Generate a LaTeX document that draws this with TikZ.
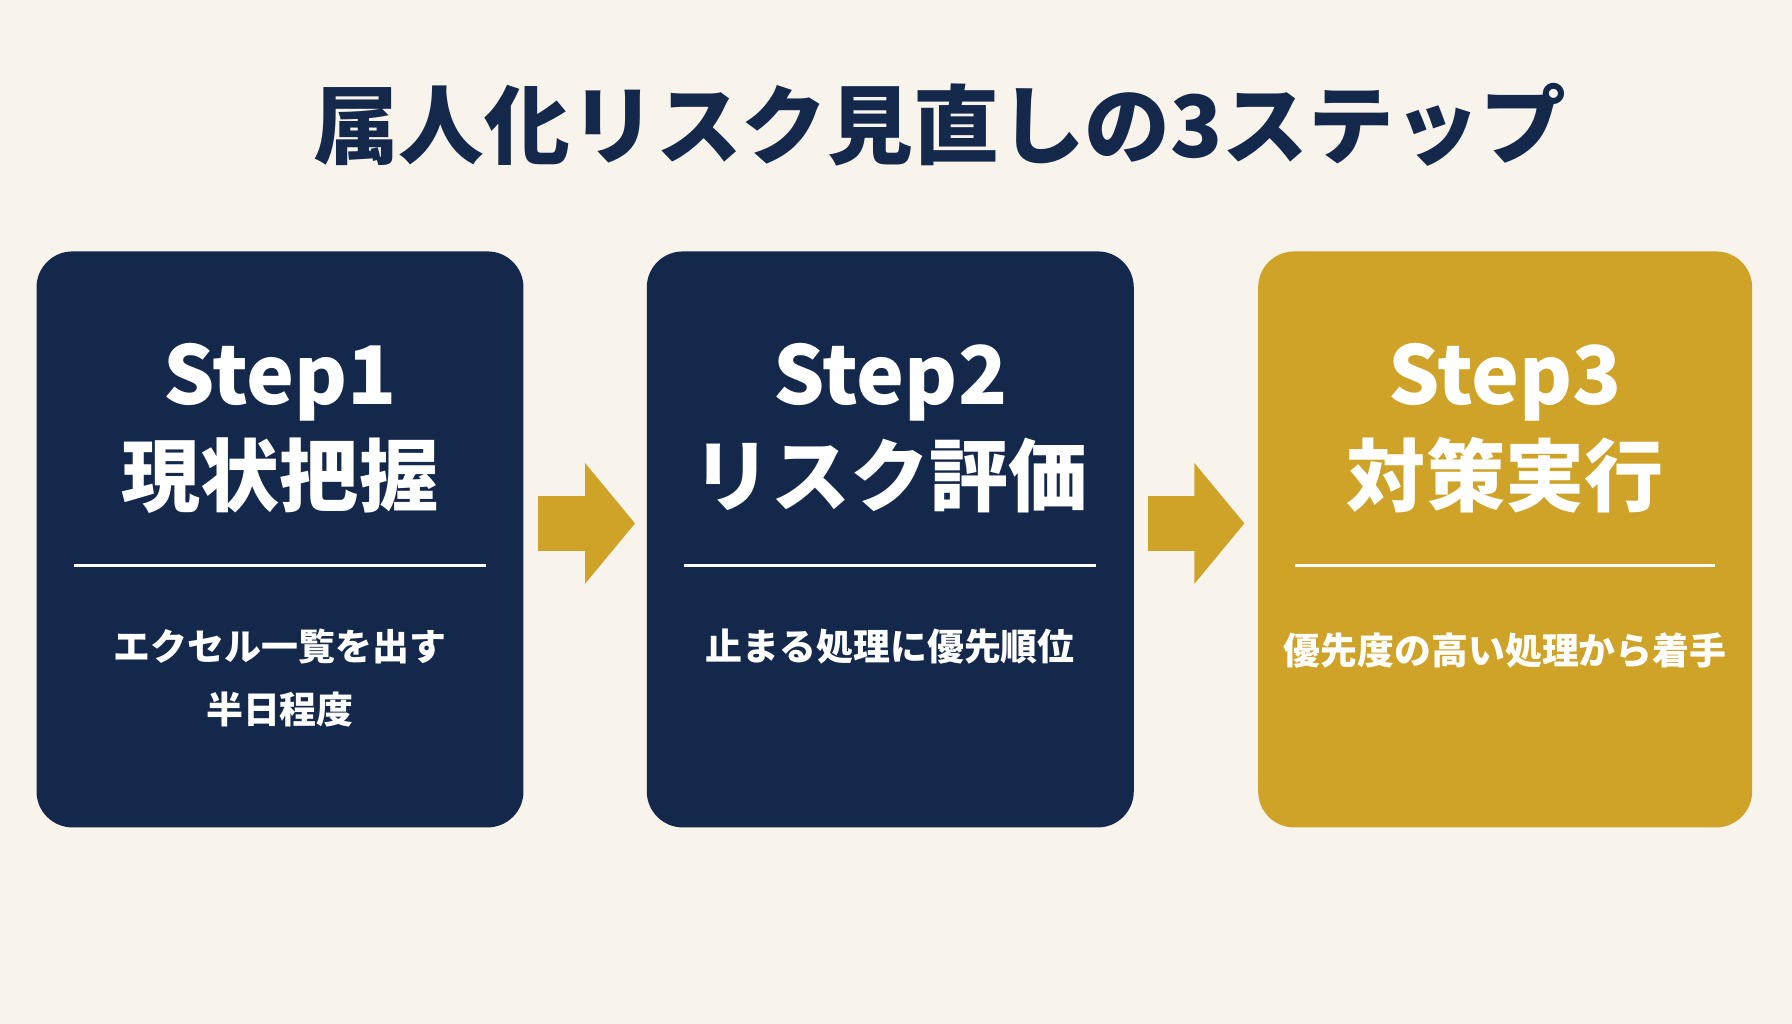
\documentclass[tikz,border=0pt]{standalone}
\usepackage{fontspec}
\setmainfont{Noto Sans CJK JP}
\usetikzlibrary{arrows.meta,positioning}
\definecolor{navy}{HTML}{13284B}
\definecolor{gold}{HTML}{CFA228}
\definecolor{paper}{HTML}{F8F4EC}
\begin{document}
\begin{tikzpicture}[x=0.01143cm,y=-0.01143cm]
  \tikzset{stepbox/.style = {rounded corners=0.36cm,minimum width=4.87cm,minimum height=5.76cm,inner sep=0pt}}
  \tikzset{steptag/.style = {text=white,anchor=base,font=\fontsize{23}{26}\selectfont\bfseries}}
  \tikzset{steptitle/.style = {text=white,anchor=base,font=\fontsize{22.5}{26}\selectfont\bfseries}}
  \tikzset{stepnote/.style = {text=white,font=\fontsize{10.5}{18}\selectfont\bfseries,align=center}}
  \tikzset{flow/.style = {draw=gold,line width=0.55cm,-{Triangle[length=0.5cm 0,width=1.18cm 0]}}}

  \fill[paper] (0,0) rectangle (1568,896);
  \node[text=navy,anchor=base,font=\fontsize{24.4}{28}\selectfont\bfseries] (title) at (822,138) {属人化リスク見直しの3ステップ};

  \node[stepbox,fill=navy] (S1) at (245,472) {};
  \node[stepbox,fill=navy] (S2) at (779,472) {};
  \node[stepbox,fill=gold,minimum width=4.94cm] (S3) at (1317,472) {};

  \foreach \s/\n/\t in {S1/1/現状把握,S2/2/リスク評価,S3/3/対策実行}{
    \node[steptag] (\s tag) at ([yshift=-1.54cm]\s.north) {Step\n};
    \node[steptitle] (\s title) at ([yshift=-2.55cm]\s.north) {\t};
    \draw[white,line width=0.8pt] ([xshift=0.38cm,yshift=-3.15cm]\s.north west) -- ([xshift=-0.38cm,yshift=-3.15cm]\s.north east);
  }
  \node[stepnote,anchor=north] (S1note) at ([yshift=-3.66cm]S1.north) {エクセル一覧を出す\\半日程度};
  \node[stepnote,anchor=north] (S2note) at ([yshift=-3.66cm]S2.north) {止まる処理に優先順位};
  \node[stepnote,anchor=north] (S3note) at ([yshift=-3.7cm]S3.north) {優先度の高い処理から着手};

  \draw[flow] ([xshift=0.14cm,yshift=0.16cm]S1.east) -- ([xshift=-0.11cm,yshift=0.16cm]S2.west);
  \draw[flow] ([xshift=0.14cm,yshift=0.16cm]S2.east) -- ([xshift=-0.13cm,yshift=0.16cm]S3.west);
\end{tikzpicture}
\end{document}
